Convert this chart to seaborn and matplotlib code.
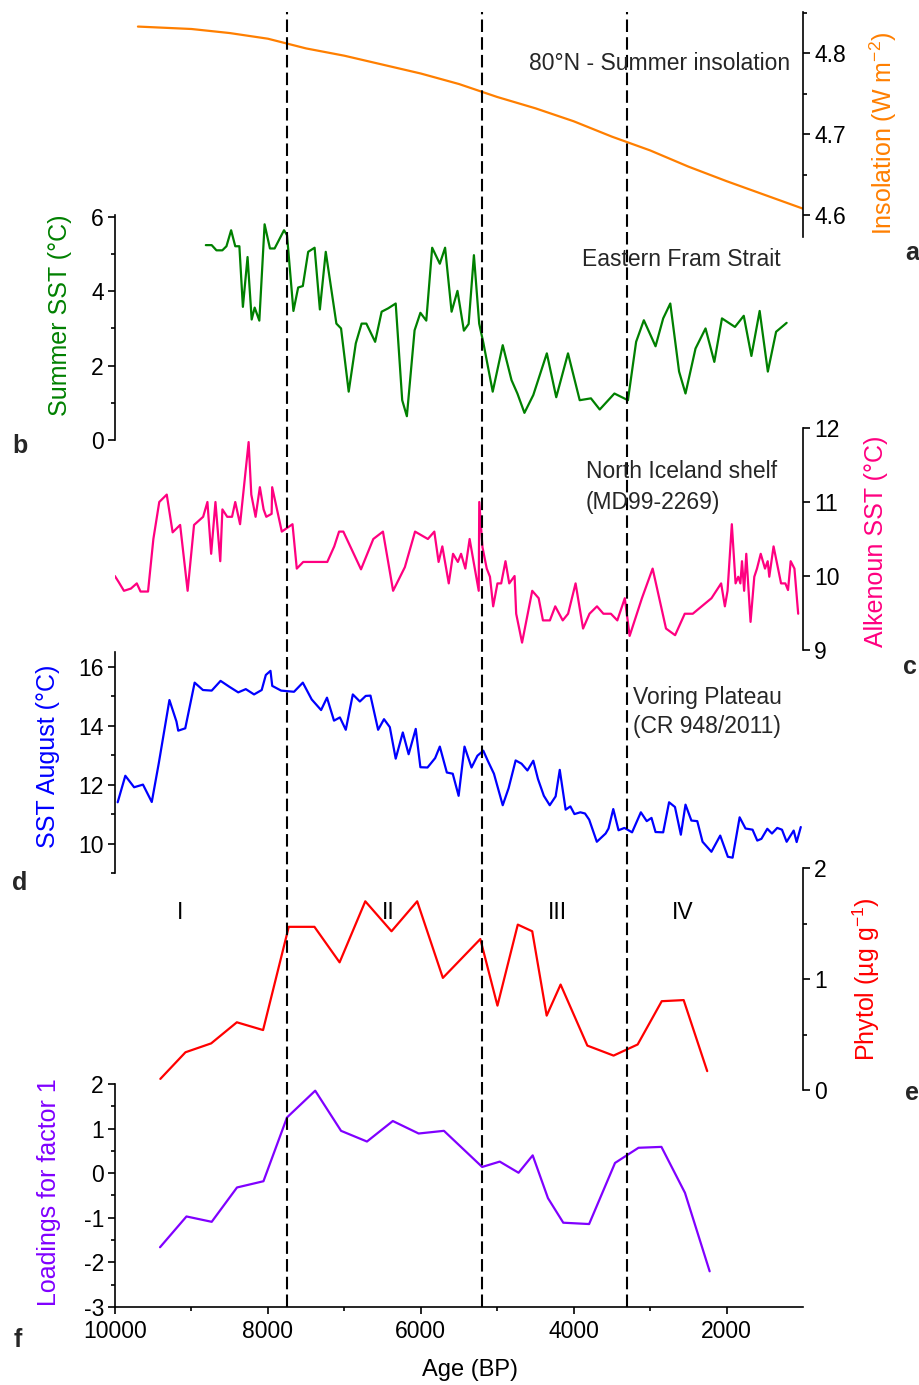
import numpy as np
import pandas as pd
import matplotlib
matplotlib.use("Agg")
import matplotlib.pyplot as plt
import seaborn as sns
from matplotlib import font_manager
from matplotlib.ticker import FixedLocator, NullLocator

# ---------------- data ----------------
ins_age = [9700, 9000, 8500, 8000, 7500, 7000, 6500, 6000, 5500, 5000, 4500, 4000,
           3500, 3000, 2500, 2000, 1500, 1000]
ins_val = [4.833, 4.830, 4.825, 4.818, 4.806, 4.797, 4.786, 4.775, 4.762, 4.746, 4.732,
           4.716, 4.697, 4.680, 4.660, 4.642, 4.625, 4.608]

fram_age = [8812, 8735, 8673, 8596, 8542, 8481, 8427, 8373, 8327, 8266, 8212, 8173, 8112,
            8043, 7973, 7912, 7789, 7750, 7666, 7604, 7543, 7473, 7389, 7320, 7243, 7104,
            7043, 6943, 6850, 6774, 6712, 6597, 6512, 6427, 6328, 6243, 6182, 6081, 6005,
            5928, 5851, 5751, 5682, 5597, 5520, 5436, 5374, 5305, 5236, 5180, 5059, 4928,
            4813, 4736, 4644, 4528, 4351, 4228, 4074, 3921, 3774, 3659, 3467, 3290, 3183,
            3082, 2929, 2829, 2736, 2621, 2537, 2406, 2275, 2160, 2060, 1890, 1775, 1675,
            1567, 1460, 1352, 1214]
fram_sst = [5.24, 5.24, 5.10, 5.10, 5.21, 5.64, 5.21, 5.21, 3.58, 4.92, 3.24, 3.56, 3.21,
            5.80, 5.15, 5.15, 5.64, 5.51, 3.47, 4.10, 4.14, 5.06, 5.17, 3.51, 5.06, 3.13,
            3.00, 1.30, 2.60, 3.13, 3.13, 2.64, 3.45, 3.54, 3.67, 1.07, 0.64, 2.95, 3.42,
            3.21, 5.17, 4.74, 5.17, 3.45, 4.01, 2.94, 3.12, 4.97, 3.13, 2.60, 1.30, 2.55,
            1.61, 1.25, 0.73, 1.21, 2.33, 1.15, 2.33, 1.07, 1.12, 0.82, 1.25, 1.07, 2.64,
            3.22, 2.52, 3.27, 3.67, 1.84, 1.25, 2.46, 3.00, 2.10, 3.27, 3.04, 3.34, 2.26,
            3.47, 1.84, 2.91, 3.15]

ice_age = [10002, 9953, 9883, 9792, 9715, 9666, 9568, 9498, 9421, 9323, 9246, 9148, 9050,
           8966, 8847, 8791, 8742, 8686, 8623, 8595, 8532, 8469, 8427, 8364, 8252, 8217,
           8161, 8105, 8056, 8021, 7951, 7944, 7818, 7678, 7622, 7538, 7391, 7223, 7132,
           7069, 7013, 6782, 6621, 6495, 6362, 6208, 6075, 5907, 5823, 5767, 5718, 5634,
           5578, 5515, 5473, 5417, 5361, 5312, 5242, 5235, 5193, 5137, 5095, 5053, 4997,
           4948, 4892, 4843, 4773, 4752, 4675, 4542, 4458, 4402, 4311, 4241, 4143, 4073,
           3975, 3877, 3793, 3695, 3611, 3513, 3429, 3331, 3268, 3107, 2967, 2792, 2673,
           2547, 2442, 2197, 2071, 2022, 1987, 1931, 1882, 1847, 1819, 1798, 1770, 1742,
           1686, 1637, 1602, 1553, 1497, 1462, 1441, 1385, 1287, 1231, 1196, 1161, 1112, 1063]
ice_sst = [10.00, 9.92, 9.80, 9.83, 9.90, 9.79, 9.79, 10.50, 11.00, 11.10, 10.59, 10.69,
           9.80, 10.69, 10.80, 11.00, 10.30, 11.00, 10.20, 10.90, 10.80, 10.80, 11.00, 10.70,
           11.81, 11.10, 10.80, 11.20, 10.90, 10.80, 10.84, 11.20, 10.60, 10.70, 10.10,
           10.19, 10.19, 10.19, 10.40, 10.60, 10.60, 10.09, 10.50, 10.60, 9.80, 10.12, 10.60,
           10.50, 10.60, 10.19, 10.40, 9.90, 10.30, 10.19, 10.30, 10.10, 10.50, 10.21, 9.80,
           11.00, 10.39, 10.10, 9.99, 9.59, 9.90, 9.90, 10.20, 9.90, 10.00, 9.49, 9.10, 9.80,
           9.70, 9.40, 9.40, 9.59, 9.40, 9.49, 9.90, 9.29, 9.49, 9.59, 9.49, 9.49, 9.40, 9.70,
           9.19, 9.70, 10.10, 9.29, 9.20, 9.49, 9.49, 9.70, 9.90, 9.59, 9.80, 10.70, 9.90,
           9.99, 9.90, 10.20, 9.80, 10.30, 9.38, 9.99, 10.10, 10.30, 10.10, 10.20, 9.99,
           10.40, 9.90, 9.90, 9.81, 10.20, 10.10, 9.49]

vor_age = [9965, 9865, 9750, 9634, 9519, 9427, 9288, 9196, 9173, 9081, 8958, 8850, 8735,
           8619, 8504, 8388, 8289, 8181, 8081, 8027, 7966, 7943, 7827, 7658, 7543, 7427,
           7304, 7227, 7135, 7058, 6981, 6889, 6797, 6720, 6658, 6558, 6481, 6405, 6328,
           6235, 6159, 6066, 6005, 5912, 5812, 5751, 5659, 5582, 5505, 5428, 5336, 5259,
           5182, 5120, 5043, 4928, 4851, 4759, 4682, 4605, 4528, 4467, 4390, 4313, 4236,
           4182, 4105, 4043, 3990, 3913, 3852, 3797, 3697, 3582, 3544, 3482, 3413, 3336,
           3236, 3121, 3044, 2982, 2929, 2829, 2752, 2675, 2598, 2537, 2460, 2383, 2314,
           2198, 2083, 1983, 1921, 1829, 1752, 1660, 1598, 1544, 1467, 1406, 1337, 1275,
           1214, 1122, 1083, 1029]
vor_sst = [11.40, 12.30, 11.91, 12.00, 11.41, 12.73, 14.87, 14.14, 13.83, 13.91, 15.46,
           15.21, 15.19, 15.52, 15.32, 15.13, 15.24, 15.06, 15.21, 15.72, 15.86, 15.35, 15.19,
           15.15, 15.46, 14.89, 14.53, 14.95, 14.17, 14.28, 13.86, 15.06, 14.82, 15.01, 15.02,
           13.86, 14.22, 13.95, 12.88, 13.77, 13.03, 13.89, 12.59, 12.58, 12.90, 13.29, 12.41,
           12.37, 11.62, 13.29, 12.58, 12.98, 13.15, 12.79, 12.37, 11.30, 11.88, 12.82, 12.71,
           12.48, 12.81, 12.19, 11.62, 11.30, 11.60, 12.50, 11.15, 11.26, 11.00, 11.06, 11.02,
           10.81, 10.06, 10.34, 10.51, 11.17, 10.45, 10.53, 10.38, 11.06, 10.76, 10.87, 10.39,
           10.38, 11.40, 11.24, 10.30, 11.32, 10.78, 10.76, 10.06, 9.72, 10.27, 9.55, 9.52,
           10.89, 10.51, 10.47, 10.10, 10.16, 10.50, 10.34, 10.53, 10.47, 10.06, 10.44, 10.05,
           10.56]

phy_age = [9407, 9078, 8742, 8406, 8063, 7727, 7391, 7062, 6726, 6383, 6047, 5711, 5221,
           4997, 4731, 4542, 4353, 4171, 3821, 3478, 3163, 2848, 2561, 2253]
phy_val = [0.10, 0.34, 0.42, 0.61, 0.54, 1.47, 1.47, 1.15, 1.70, 1.43, 1.70, 1.01, 1.36,
           0.76, 1.49, 1.43, 0.67, 0.95, 0.40, 0.31, 0.41, 0.80, 0.81, 0.17]

load_age = [9411, 9065, 8735, 8404, 8058, 7750, 7381, 7043, 6704, 6366, 6028, 5697, 5197,
            4967, 4721, 4536, 4336, 4136, 3798, 3459, 3152, 2852, 2544, 2221]
load_val = [-1.66, -0.97, -1.09, -0.32, -0.18, 1.25, 1.85, 0.95, 0.71, 1.17, 0.89, 0.95,
            0.14, 0.26, 0.01, 0.40, -0.56, -1.11, -1.14, 0.23, 0.57, 0.59, -0.44, -2.20]

boundaries = [7750, 5200, 3300]
zones = ["I", "II", "III", "IV"]
zone_x = [9150, 6420, 4210, 2580]

# ---------------- style ----------------
sns.set_theme(style="white")
plt.rcParams['font.family'] = ['Liberation Sans', 'DejaVu Sans']
plt.rcParams['mathtext.fontset'] = 'custom'
plt.rcParams['mathtext.rm'] = 'Liberation Sans'
plt.rcParams['mathtext.it'] = 'Liberation Sans:italic'
plt.rcParams['axes.unicode_minus'] = False

installed = {f.name for f in font_manager.fontManager.ttflist}
if 'Liberation Sans Narrow' in installed:
    NARROW = ['Liberation Sans Narrow', 'Liberation Sans', 'DejaVu Sans']
    ann_size, tick_size = 19, 18
else:
    NARROW = ['Liberation Sans', 'DejaVu Sans']
    ann_size, tick_size = 16.5, 16.5

W, H = 920, 1385
fig = plt.figure(figsize=(W / 100, H / 100), dpi=100)
fig.patch.set_facecolor('white')
X0, X1 = 115, 803


def make_ax(top, bottom):
    ax = fig.add_axes([X0 / W, 1 - bottom / H, (X1 - X0) / W, (bottom - top) / H])
    ax.patch.set_visible(False)
    for s in ax.spines.values():
        s.set_visible(False)
    ax.set_xlim(10000, 1000)
    ax.tick_params(axis='both', which='both', direction='out', colors='black', width=1.2)
    ax.tick_params(which='major', length=5)
    ax.tick_params(which='minor', length=3)
    ax.xaxis.set_major_locator(NullLocator())
    ax.xaxis.set_minor_locator(NullLocator())
    ax.set_xlabel('')
    ax.set_ylabel('')
    return ax


def fix_labels(ax):
    for lab in ax.get_xticklabels() + ax.get_yticklabels():
        lab.set_fontfamily(NARROW)
        lab.set_fontsize(tick_size)


def style_side(ax, side, major, minor, labels=None):
    ax.spines[side].set_visible(True)
    ax.spines[side].set_color('black')
    ax.spines[side].set_linewidth(1.2)
    if side == 'right':
        ax.yaxis.tick_right()
    else:
        ax.yaxis.tick_left()
    ax.yaxis.set_major_locator(FixedLocator(major))
    ax.yaxis.set_minor_locator(FixedLocator(minor))
    ax.set_yticklabels(labels if labels is not None else [f'{m:g}' for m in major])
    ax.tick_params(axis='y', which='both', left=(side == 'left'), right=(side == 'right'),
                   labelleft=(side == 'left'), labelright=(side == 'right'), pad=3)
    fix_labels(ax)


lw = 1.6

# panel a: insolation
axa = make_ax(12, 237)
sns.lineplot(x=ins_age, y=ins_val, ax=axa, color='#FF7F00', lw=lw, sort=False, estimator=None)
axa.set_ylim(4.573, 4.851)
style_side(axa, 'right', [4.6, 4.7, 4.8], [4.65, 4.75, 4.85], ['4.6', '4.7', '4.8'])
axa.set_xlim(10000, 1000)

# panel b: Fram Strait
axb = make_ax(215, 440)
sns.lineplot(x=fram_age, y=fram_sst, ax=axb, color='#008000', lw=lw, sort=False, estimator=None)
axb.set_ylim(0, 6.05)
style_side(axb, 'left', [0, 2, 4, 6], [1, 3, 5])
axb.set_xlim(10000, 1000)

# panel c: North Iceland
axc = make_ax(428, 650)
sns.lineplot(x=ice_age, y=ice_sst, ax=axc, color='#FF0080', lw=lw, sort=False, estimator=None)
axc.set_ylim(9, 12)
style_side(axc, 'right', [9, 10, 11, 12], [])
axc.set_xlim(10000, 1000)

# panel d: Voring
axd = make_ax(652, 873)
sns.lineplot(x=vor_age, y=vor_sst, ax=axd, color='#0000FF', lw=lw, sort=False, estimator=None)
axd.set_ylim(9, 16.5)
style_side(axd, 'left', [10, 12, 14, 16], [9, 11, 13, 15])
axd.set_xlim(10000, 1000)

# panel e: phytol
axe = make_ax(868, 1090)
sns.lineplot(x=phy_age, y=phy_val, ax=axe, color='#FF0000', lw=lw, sort=False, estimator=None)
axe.set_ylim(0, 2)
style_side(axe, 'right', [0, 1, 2], [0.5, 1.5])
axe.set_xlim(10000, 1000)

# panel f: loadings
axf = make_ax(1084, 1307)
sns.lineplot(x=load_age, y=load_val, ax=axf, color='#8000FF', lw=lw, sort=False, estimator=None)
axf.set_ylim(-3, 2)
style_side(axf, 'left', [-3, -2, -1, 0, 1, 2], [-2.5, -1.5, -0.5, 0.5, 1.5])
axf.spines['bottom'].set_visible(True)
axf.spines['bottom'].set_color('black')
axf.spines['bottom'].set_linewidth(1.2)
axf.set_xlim(10000, 1000)
axf.xaxis.set_major_locator(FixedLocator([10000, 8000, 6000, 4000, 2000]))
axf.xaxis.set_minor_locator(FixedLocator([9000, 7000, 5000, 3000]))
axf.tick_params(axis='x', which='both', bottom=True, labelbottom=True, pad=4)
axf.set_xticklabels(['10000', '8000', '6000', '4000', '2000'])
fix_labels(axf)

# dashed boundary lines (overlay axes spanning all panels)
axo = fig.add_axes([X0 / W, 1 - 1307 / H, (X1 - X0) / W, (1307 - 12) / H])
axo.patch.set_visible(False)
axo.set_axis_off()
axo.set_xlim(10000, 1000)
axo.set_ylim(0, 1)
for b in boundaries:
    axo.axvline(b, color='black', lw=1.5, ls=(0, (6, 2.5)))


def ftext(x, y, s, **kw):
    fig.text(x / W, 1 - y / H, s, **kw)


# axis labels
ftext(883, 133, 'Insolation (W m$^{-2}$)', rotation=90, ha='center', va='center',
      fontsize=18, color='#FF7F00')
ftext(60, 315, 'Summer SST (°C)', rotation=90, ha='center', va='center',
      fontsize=18, color='#008000')
ftext(876, 541, 'Alkenoun SST (°C)', rotation=90, ha='center', va='center',
      fontsize=18, color='#FF0080')
ftext(48, 756, 'SST August (°C)', rotation=90, ha='center', va='center',
      fontsize=18, color='#0000FF')
ftext(866, 979, 'Phytol (µg g$^{-1}$)', rotation=90, ha='center', va='center',
      fontsize=18, color='#FF0000')
ftext(49, 1192, 'Loadings for factor 1', rotation=90, ha='center', va='center',
      fontsize=18, color='#8000FF')
ftext(470, 1370, 'Age (BP)', ha='center', va='center', fontsize=ann_size + 0.5,
      family=NARROW, color='black')

# annotations
for (tx, ty, s) in [(529, 63, '80°N - Summer insolation'), (582, 260, 'Eastern Fram Strait'),
                    (586, 472, 'North Iceland shelf'), (586, 502, '(MD99-2269)'),
                    (633, 698, 'Voring Plateau'), (633, 727, '(CR 948/2011)')]:
    ftext(tx, ty, s, ha='left', va='center', fontsize=ann_size, family=NARROW)

# zone labels
for zx, zl in zip(zone_x, zones):
    axe.text(zx, 1.60, zl, ha='center', va='center', fontsize=ann_size, family=NARROW,
             color='black')

# panel letters
for (lx, ly, l) in [(912, 253, 'a'), (20, 446, 'b'), (910, 667, 'c'),
                    (20, 883, 'd'), (912, 1093, 'e'), (18, 1340, 'f')]:
    ftext(lx, ly, l, ha='center', va='center', fontsize=18, fontweight='bold')

fig.savefig('out.png', dpi=100)
